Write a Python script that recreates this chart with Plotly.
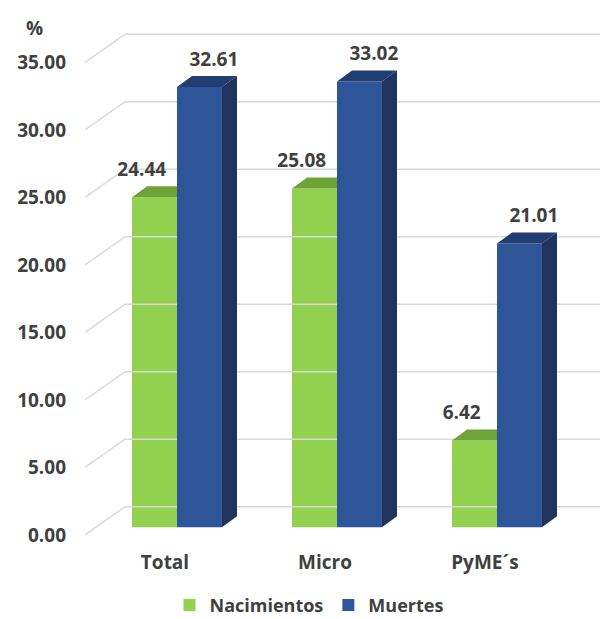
import plotly.graph_objects as go

# ---- data -------------------------------------------------------------
categories = ["Total", "Micro", "PyME´s"]
nacimientos = [24.44, 25.08, 6.42]
muertes = [32.61, 33.02, 21.01]
y_ticks = [0, 5, 10, 15, 20, 25, 30, 35]

# ---- pseudo-3D geometry (axis units) ---------------------------------
BAR_W = 0.281      # width of each bar front face (category units)
ROW_X = 0.075      # set-back of the bar row from the floor front edge
ROW_Y = 0.58
DEPTH_X = 0.094    # bar depth projected on the page
DEPTH_Y = 0.815
WALL_X = 0.25      # back wall offset from the floor front edge
WALL_Y = 2.1
X_MIN, X_MAX = -0.5, 2.71875
Y_MIN, Y_MAX = -0.7407, 38.5185

GREEN, GREEN_TOP = "#92D050", "#6FA33A"
BLUE, BLUE_TOP, BLUE_SIDE = "#2E5597", "#213D72", "#1F3560"
GRID = "#D9D9D9"
TEXT = "#404040"
FONT = "Open Sans"

fig = go.Figure()

# back wall grid lines with their left-wall diagonals
gx, gy = [], []
for t in y_ticks:
    gx += [X_MIN, X_MIN + WALL_X, X_MAX, None]
    gy += [t, t + WALL_Y, t + WALL_Y, None]
fig.add_trace(go.Scatter(x=gx, y=gy, mode="lines", line=dict(color=GRID, width=1.5),
                         hoverinfo="skip", showlegend=False, xaxis="x", yaxis="y"))


def faces(values, offset):
    """Top and side polygons for a row of bars whose front faces start at `offset`."""
    tx, ty, sx, sy = [], [], [], []
    for i, v in enumerate(values):
        left = i + offset
        right = left + BAR_W
        bottom = ROW_Y
        top = ROW_Y + v
        tx += [left, right, right + DEPTH_X, left + DEPTH_X, left, None]
        ty += [top, top, top + DEPTH_Y, top + DEPTH_Y, top, None]
        sx += [right, right + DEPTH_X, right + DEPTH_X, right, right, None]
        sy += [bottom, bottom + DEPTH_Y, top + DEPTH_Y, top, bottom, None]
    return tx, ty, sx, sy


def add_series(values, name, offset, front, top_c, side_c, xa, ya):
    fig.add_trace(go.Bar(
        x=list(range(len(values))), y=values, base=ROW_Y, width=BAR_W, offset=offset,
        marker=dict(color=front, line=dict(width=0)), name=name,
        xaxis=xa, yaxis=ya, hovertemplate="%{y:.2f}<extra>" + name + "</extra>"))
    tx, ty, sx, sy = faces(values, offset)
    fig.add_trace(go.Scatter(x=sx, y=sy, mode="none", fill="toself", fillcolor=side_c,
                             hoverinfo="skip", showlegend=False, xaxis=xa, yaxis=ya))
    fig.add_trace(go.Scatter(x=tx, y=ty, mode="none", fill="toself", fillcolor=top_c,
                             hoverinfo="skip", showlegend=False, xaxis=xa, yaxis=ya))


green_off = ROW_X - BAR_W
blue_off = ROW_X
# green row on the base subplot, blue row on an overlay so it sits in front
add_series(nacimientos, "Nacimientos", green_off, GREEN, GREEN_TOP, GREEN_TOP, "x", "y")
add_series(muertes, "Muertes", blue_off, BLUE, BLUE_TOP, BLUE_SIDE, "x2", "y2")

# value labels above each bar
LABEL_GAP = 1.1
idx = list(range(len(categories)))
fig.add_trace(go.Scatter(
    x=[i + green_off + BAR_W / 2 - 0.08 for i in idx],
    y=[v + ROW_Y + DEPTH_Y + LABEL_GAP for v in nacimientos],
    text=[f"{v:.2f}" for v in nacimientos], mode="text",
    textfont=dict(family=FONT, size=19, color=TEXT, weight="bold"),
    hoverinfo="skip", showlegend=False, xaxis="x2", yaxis="y2"))
fig.add_trace(go.Scatter(
    x=[i + blue_off + BAR_W / 2 + 0.09 for i in idx],
    y=[v + ROW_Y + DEPTH_Y + LABEL_GAP for v in muertes],
    text=[f"{v:.2f}" for v in muertes], mode="text",
    textfont=dict(family=FONT, size=19, color=TEXT, weight="bold"),
    hoverinfo="skip", showlegend=False, xaxis="x2", yaxis="y2"))

tickfont = dict(family=FONT, size=19, color=TEXT, weight="bold")
fig.update_layout(
    width=600, height=619,
    margin=dict(l=85, r=0, t=15, b=74),
    paper_bgcolor="white", plot_bgcolor="white",
    font=dict(family=FONT, size=19, color=TEXT, weight="bold"),
    barmode="overlay",
    xaxis=dict(range=[X_MIN, X_MAX], tickvals=idx, ticktext=categories,
               showgrid=False, zeroline=False, showline=False, ticks="",
               tickfont=tickfont, ticklabelstandoff=4, fixedrange=True),
    yaxis=dict(range=[Y_MIN, Y_MAX], tickvals=y_ticks, tickformat=".2f",
               showgrid=False, zeroline=False, showline=False, ticks="",
               tickfont=tickfont, ticklabelstandoff=18, fixedrange=True),
    xaxis2=dict(overlaying="x", range=[X_MIN, X_MAX], visible=False, fixedrange=True),
    yaxis2=dict(overlaying="y", range=[Y_MIN, Y_MAX], visible=False, fixedrange=True),
    legend=dict(orientation="h", xref="container", yref="container",
                x=0.515, y=0.022, xanchor="center", yanchor="middle",
                font=dict(family=FONT, size=18, color=TEXT, weight="bold"),
                itemwidth=30, tracegroupgap=0),
    annotations=[dict(text="%", xref="paper", yref="paper",
                      x=-0.099, y=0.9755, xanchor="center", yanchor="middle",
                      showarrow=False,
                      font=dict(family=FONT, size=19, color=TEXT, weight="bold"))],
)

fig.write_html("out.html")
